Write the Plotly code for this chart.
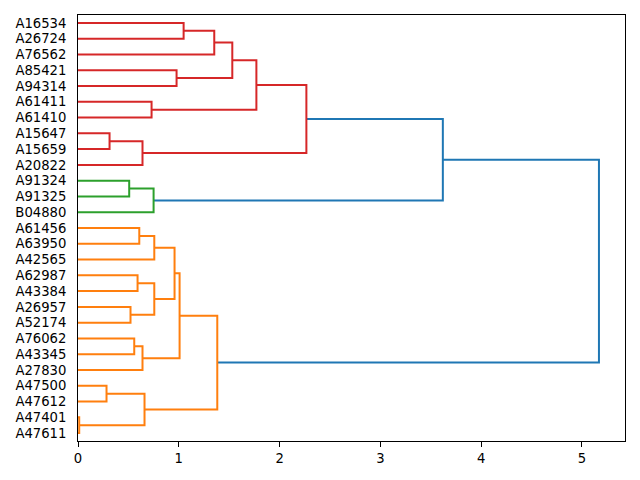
import plotly.graph_objects as go

# leaf labels, bottom to top
leaves = ["A47611", "A47401", "A47612", "A47500", "A27830", "A43345", "A76062",
          "A52174", "A26957", "A43384", "A62987", "A42565", "A63950", "A61456",
          "B04880", "A91325", "A91324", "A20822", "A15659", "A15647", "A61410",
          "A61411", "A94314", "A85421", "A76562", "A26724", "A16534"]

# merges: children are leaf names or indexes of earlier merges
left_child = ["A16534", 0, "A85421", 1, "A61411", 3, "A15647", 6, 5,
              "A91324", 9, 8,
              "A61456", 12, "A62987", "A26957", 14, 13, "A76062", 18, 17,
              "A47500", "A47401", 21, 20, 11]
right_child = ["A26724", "A76562", "A94314", 2, "A61410", 4, "A15659", "A20822", 7,
               "A91325", "B04880", 10,
               "A63950", "A42565", "A43384", "A52174", 15, 16, "A43345", "A27830", 19,
               "A47612", "A47611", 22, 23, 24]
heights = [1.048, 1.352, 0.978, 1.531, 0.730, 1.770, 0.313, 0.640, 2.266,
           0.508, 0.750, 3.620,
           0.608, 0.757, 0.591, 0.521, 0.757, 0.958, 0.558, 0.640, 1.008,
           0.283, 0.012, 0.660, 1.382, 5.169]
link_colors = ["red"] * 9 + ["green"] * 2 + ["blue"] + ["orange"] * 13 + ["blue"]

palette = {"blue": "#1f77b4", "orange": "#ff7f0e", "green": "#2ca02c", "red": "#d62728"}

leaf_y = {name: 10 * i + 5 for i, name in enumerate(leaves)}


def node_pos(child, merge_y):
    if isinstance(child, str):
        return 0.0, leaf_y[child]
    return heights[child], merge_y[child]


merge_y = []
segs = {c: ([], []) for c in palette}
for k in range(len(heights)):
    hl, yl = node_pos(left_child[k], merge_y)
    hr, yr = node_pos(right_child[k], merge_y)
    merge_y.append((yl + yr) / 2)
    xs, ys = segs[link_colors[k]]
    xs += [hl, heights[k], heights[k], hr, None]
    ys += [yl, yl, yr, yr, None]

fig = go.Figure()
for c, (xs, ys) in segs.items():
    fig.add_trace(go.Scatter(x=xs, y=ys, mode="lines",
                             line=dict(color=palette[c], width=2),
                             hoverinfo="skip", showlegend=False))

# page body has an 8px margin, so the figure is shrunk by that much
fig.update_layout(
    width=632, height=472,
    margin=dict(l=70, r=15, t=7, b=39),
    plot_bgcolor="white", paper_bgcolor="white",
    font=dict(family="DejaVu Sans", size=13.2, color="black"),
)
fig.update_xaxes(range=[0, max(heights) * 1.05], dtick=1, ticks="outside", ticklen=5,
                 tickcolor="black", showline=True, linecolor="black", linewidth=1,
                 mirror=True, showgrid=False, zeroline=False)
fig.update_yaxes(range=[0, 10 * len(leaves)], tickvals=[leaf_y[n] for n in leaves],
                 ticktext=leaves, ticks="", ticklabelstandoff=8,
                 showline=True, linecolor="black", linewidth=1,
                 mirror=True, showgrid=False, zeroline=False, automargin=False)

fig.write_html("out.html")
